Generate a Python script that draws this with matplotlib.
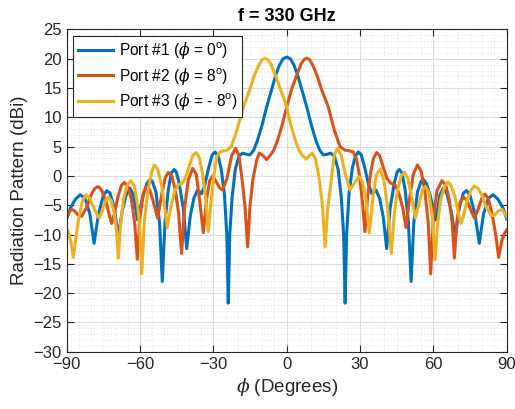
import matplotlib
matplotlib.use("Agg")
import matplotlib.pyplot as plt
from matplotlib.ticker import MultipleLocator

plt.rcParams['font.family'] = ['Liberation Sans', 'DejaVu Sans']
plt.rcParams['mathtext.fontset'] = 'custom'
plt.rcParams['mathtext.it'] = 'DejaVu Serif:italic'
plt.rcParams['mathtext.rm'] = 'Liberation Sans'

title = "f = 330 GHz"
xlabel = r"$\phi$ (Degrees)"
ylabel = "Radiation Pattern (dBi)"
labels = [r"Port #1 ($\phi$ = 0$^{\mathrm{o}}$)",
          r"Port #2 ($\phi$ = 8$^{\mathrm{o}}$)",
          r"Port #3 ($\phi$ = - 8$^{\mathrm{o}}$)"]
xticks = [-90, -60, -30, 0, 30, 60, 90]
yticks = list(range(-30, 30, 5))

# Port 1 (phi = 0)
p1_deg = [-90, -88.5, -86.5, -84.5, -82.5, -80.5, -78.8, -77, -75, -73.6, -72.3, -70.5, -68.9,
          -67.3, -65.5, -64.1, -62.7, -61, -58.8, -57.2, -55.9, -55, -53.5, -52, -50.9, -49.8,
          -48.5, -47.2, -46.1, -45.2, -44, -42.3, -40.9, -39.5, -38, -36.5, -34.8, -33.5, -32,
          -30.5, -29.3, -28, -26.8, -25.5, -24.5, -23.9, -23.3, -22.3, -21, -19.5, -18, -16.5,
          -15, -13.5, -12, -10, -8.2, -6, -4.5, -3, -1.5, 0,
          1.5, 3, 4.5, 6, 8.2, 10, 12, 13.5, 15, 16.5, 18, 19.5, 21, 22.3, 23.3, 23.9, 24.5,
          25.5, 26.8, 28, 29.3, 30.5, 32, 33.5, 34.8, 36.5, 38, 39.5, 40.9, 42.3, 44, 45.2,
          46.1, 47.2, 48.5, 49.8, 50.9, 52, 53.5, 55, 55.9, 57.2, 58.8, 61, 62.7, 64.1, 65.5,
          67.3, 68.9, 70.5, 72.3, 73.6, 75, 77, 78.8, 80.5, 82.5, 84.5, 86.5, 88.5, 90]
p1_db = [-7.3, -5.5, -4.0, -3.2, -3.8, -6.5, -11.5, -6.5, -3.3, -2.5, -2.9, -5.5, -10.4,
         -6.0, -3.0, -2.1, -3.2, -7.5, -3.5, -1.3, -0.6, -0.9, -2.7, -8.0, -18.0, -8.0,
         -2.5, 0.5, 1.1, 0.7, -1.2, -5.5, -12.4, -7.0, -3.8, -2.4, -3.0, -1.5, 1.3,
         3.6, 4.1, 3.3, 1.2, -3.0, -10.0, -21.7, -10.0, -3.5, 1.2, 3.4, 3.9, 3.7,
         3.6, 4.4, 6.0, 8.8, 11.8, 15.0, 17.2, 18.9, 20.0, 20.3,
         20.0, 18.9, 17.2, 15.0, 11.8, 8.8, 6.0, 4.4, 3.6, 3.7, 3.9, 3.4, 1.2, -3.5, -10.0, -21.7, -10.0,
         -3.0, 1.2, 3.3, 4.1, 3.6, 1.3, -1.5, -3.0, -2.4, -3.8, -7.0, -12.4, -5.5, -1.2, 0.7,
         1.1, 0.5, -2.5, -8.0, -18.0, -8.0, -2.7, -0.9, -0.6, -1.3, -3.5, -7.5, -3.2, -2.1, -3.0,
         -6.0, -10.4, -5.5, -2.9, -2.5, -3.3, -6.5, -11.5, -6.5, -3.8, -3.2, -4.0, -5.5, -7.3]

# Port 2 (phi = 8)
p2_deg = [-90, -89, -88, -87, -85.5, -83.9, -82, -80, -78.5, -77.1, -75.7, -74, -72.5, -71.6,
          -70.5, -69, -67.6, -66.4, -65, -63.5, -62.2, -61.1, -60, -58.6, -57.3, -56, -54.5,
          -52.8, -51.3, -49.7, -48.4, -47, -45.5, -44.2, -43, -41.8, -40.3, -38.5, -37, -35.8,
          -34.1, -32.8, -31.5, -30.3, -28.8, -27.5, -26.3, -24.5, -22.5, -20.9, -19.5, -18,
          -17, -16, -15, -13.8, -12.3, -11.2, -10, -8.2, -6.8, -5.3, -3.8, -1.8, 0, 2, 4.1, 6,
          7.2, 8.2, 9.5, 11, 12.5, 14.5, 17, 19.5, 21.8, 23.9, 25.5, 27.3, 28.5, 29.8, 31, 32,
          33, 34.3, 35.5, 36.8, 38, 39.5, 41, 42.5, 44.3, 45.8, 47.5, 48.8, 50.2, 51.8, 53.5,
          55, 56.5, 57.9, 58.9, 60, 61.5, 63.5, 65, 66.5, 67.7, 68.6, 69.7, 71, 72.3, 73.8,
          75.5, 76.8, 78.2, 79.8, 81.1, 82.5, 84, 85.5, 86.7, 88, 89, 90]
p2_db = [-7.1, -6.2, -5.7, -5.9, -6.6, -6.9, -5.5, -3.2, -2.1, -1.8, -2.4, -4.2, -6.8, -8.1,
         -6.5, -3.5, -1.6, -1.1, -1.8, -4.0, -8.0, -14.2, -7.0, -2.8, -1.8, -2.4, -4.5,
         -7.2, -3.5, -0.3, 0.6, 0.0, -2.5, -6.5, -13.2, -5.5, -0.8, 1.3, 0.3, -3.5,
         -9.7, -4.0, -0.8, 0.0, -1.0, -2.0, -2.4, -0.5, 3.5, 4.7, 3.5, -1.5,
         -5.5, -12.1, -5.0, -0.5, 2.7, 3.9, 3.6, 2.8, 3.5, 4.4, 6.0, 8.8, 11.8, 14.8, 17.2, 19.2,
         19.9, 20.1, 19.8, 18.6, 17.0, 14.5, 11.8, 7.8, 5.0, 4.4, 4.3, 4.1, 3.0, 0.0, -4.5, -9.5,
         -4.0, 0.5, 3.0, 4.0, 3.5, 1.5, -0.4, -1.2, -1.5, -2.8, -5.5, -8.8, -4.0, 0.3, 1.9,
         0.8, -2.5, -8.0, -16.7, -7.0, -2.5, -0.8, -1.5, -4.0, -8.0, -14.0, -7.5, -4.5, -3.6, -4.2,
         -6.0, -7.2, -5.8, -3.8, -3.1, -3.9, -6.5, -10.0, -13.9, -11.0, -9.9, -9.2]

# Port 3 (phi = -8)
p3_deg = [-90, -89, -88.2, -87.3, -86.2, -85, -83.5, -82, -80.5, -78.8, -76.7, -75, -73.9, -73,
          -71.8, -70.5, -69.7, -68.9, -68, -66.8, -65.2, -63.8, -62.3, -61, -60.1, -59.3, -58.3,
          -56.8, -55.2, -54.2, -52.8, -51.2, -50, -48.9, -47.5, -45.8, -44.4, -43, -41.5, -39.8,
          -38.4, -37.1, -35.8, -34.5, -33.2, -32.1, -31, -29.8, -28.6, -27.3, -25.8, -24.2,
          -22.7, -20.4, -17.7, -15.3, -13.4, -11.8, -10.2, -8.9, -7.8, -6.6, -4.6, -2.4, 0,
          1.6, 3.6, 5, 6.6, 8, 9.2, 10.5, 11.8, 13.3, 14.6, 15.7, 16.8, 18, 19.4, 20.7, 22.3,
          24, 25.9, 27.7, 29.6, 31, 32.4, 33.8, 35.3, 36.7, 38.3, 39.8, 41.3, 42.8, 44, 45.3,
          46.8, 48.2, 49.5, 51.1, 52.6, 54.3, 55.5, 56.8, 58.1, 59.6, 60.7, 61.8, 63, 64.6,
          65.9, 67.2, 68.8, 70.3, 71.3, 72.3, 73.8, 75.5, 76.8, 78.2, 79.8, 81.8, 83.8, 85.3,
          86.8, 88, 89, 90]
p3_db = [-8.9, -10.0, -11.5, -13.9, -10.5, -7.0, -4.2, -3.2, -3.8, -5.6, -7.2, -5.5, -4.0, -3.6,
         -4.2, -6.5, -9.0, -14.0, -8.5, -4.0, -1.5, -0.8, -1.8, -5.0, -9.0, -16.7, -8.0,
         -2.5, 0.7, 1.9, 1.2, -1.5, -5.0, -8.8, -5.5, -2.6, -1.5, -1.3, -0.4, 1.8,
         3.5, 4.0, 3.2, 0.5, -3.5, -9.5, -4.5, 0.0, 3.3, 4.1, 4.3, 4.4,
         5.0, 7.8, 11.8, 14.5, 17.0, 18.6, 19.8, 20.1, 19.9, 19.2, 17.2, 14.6, 11.8,
         8.8, 6.0, 4.4, 3.4, 2.9, 3.4, 3.9, 2.9, -0.5, -5.0, -12.1, -5.5, -1.5, 3.5, 4.7, 3.5,
         0.3, -2.4, -1.2, -0.1, -1.0, -4.0, -9.7, -3.5, 0.3, 1.2, -0.8, -5.5, -13.2, -6.5, -2.5,
         0.0, 0.6, -0.3, -3.5, -7.2, -4.5, -2.4, -1.8, -2.8, -7.0, -14.3, -8.0, -4.0, -1.8,
         -1.0, -1.6, -3.5, -6.5, -8.1, -6.8, -4.2, -2.4, -1.7, -2.1, -3.2, -5.5, -6.8, -6.6,
         -5.9, -5.7, -6.2, -7.0]

colors = ['#0072BD', '#D95319', '#EDB120']

fig = plt.figure(figsize=(5.15, 4.09), dpi=100)
ax = fig.add_axes([0.1295, 0.1399, 0.8544, 0.788])

for d, v, c, lab in zip([p1_deg, p2_deg, p3_deg], [p1_db, p2_db, p3_db], colors, labels):
    ax.plot(d, v, color=c, lw=2.2, label=lab, solid_joinstyle='round')

ax.set_xlim(-90, 90)
ax.set_ylim(-30, 25)
ax.set_xticks(xticks)
ax.set_yticks(yticks)
ax.xaxis.set_minor_locator(MultipleLocator(5))
ax.yaxis.set_minor_locator(MultipleLocator(1))
ax.grid(True, which='major', color='#dcdcdc', lw=0.8, ls='-')
ax.grid(True, which='minor', color='#dadada', lw=0.6, ls=(0, (1, 3)))
ax.set_axisbelow(True)
ax.tick_params(which='major', direction='in', length=5, top=True, right=True,
               labelsize=12, colors='#262626', width=0.8)
ax.tick_params(which='minor', length=0, top=True, right=True)
for s in ax.spines.values():
    s.set_color('#262626')
    s.set_linewidth(0.8)

ax.set_xlabel(xlabel, fontsize=13.5, color='#262626', labelpad=3)
ax.set_ylabel(ylabel, fontsize=13.5, color='#262626', labelpad=4)
ax.set_title(title, fontsize=13, fontweight='bold', color='black', pad=6)

leg = ax.legend(loc='upper left', fontsize=11.2, frameon=True, fancybox=False,
                edgecolor='#262626', framealpha=1, handlelength=2.3, handletextpad=0.35,
                borderpad=0.3, labelspacing=0.28, borderaxespad=0.4)
leg.get_frame().set_linewidth(0.8)

fig.savefig('out.png', dpi=100)
